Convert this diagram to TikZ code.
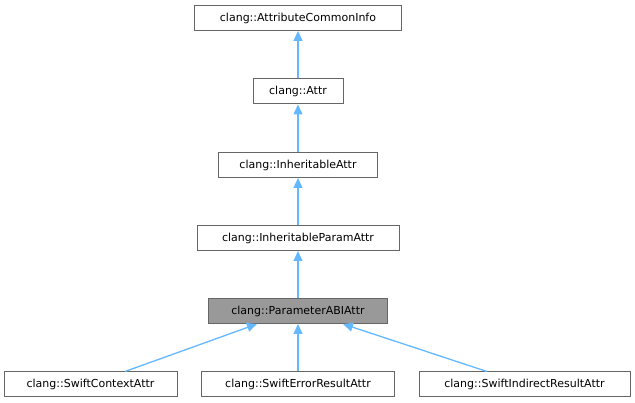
\documentclass[tikz,border=0pt]{standalone}
\usepackage{fontspec}
\setmainfont{DejaVu Sans}
\usetikzlibrary{arrows.meta}
\definecolor{edgeblue}{HTML}{63B8FF}
\definecolor{boxborder}{HTML}{666666}
\definecolor{hilite}{HTML}{999999}
\begin{document}
\begin{tikzpicture}[x=1pt,y=-1pt,
  cls/.style={draw=boxborder,line width=1pt,fill=white,minimum height=25pt,inner sep=0pt,font=\fontsize{11}{13}\selectfont,text=black},
  inh/.style={draw=edgeblue,line width=1.3pt,-{Triangle[length=10pt,width=9pt]}}]
\useasboundingbox (0,0) rectangle (635,403);
\node[cls,minimum width=207pt] (aci) at (298,18) {clang::AttributeCommonInfo};
\node[cls,minimum width=90pt] (attr) at (298,91.5) {clang::Attr};
\node[cls,minimum width=159pt] (ia) at (298,165) {clang::InheritableAttr};
\node[cls,minimum width=202pt] (ipa) at (298,238) {clang::InheritableParamAttr};
\node[cls,minimum width=179pt,fill=hilite] (pabi) at (298,311) {clang::ParameterABIAttr};
\node[cls,minimum width=173pt] (sca) at (90.5,384.5) {clang::SwiftContextAttr};
\node[cls,minimum width=193pt] (sera) at (298,384.5) {clang::SwiftErrorResultAttr};
\node[cls,minimum width=211pt] (sira) at (524.5,384.5) {clang::SwiftIndirectResultAttr};
\coordinate (scaS) at ([xshift=34.5pt]sca.north);
\coordinate (siraS) at ([xshift=-37.5pt]sira.north);
\coordinate (pabiL) at ([xshift=-41pt]pabi.south);
\coordinate (pabiR) at ([xshift=45pt]pabi.south);
\draw[inh] (attr) -- (aci);
\draw[inh] (ia) -- (attr);
\draw[inh] (ipa) -- (ia);
\draw[inh] (pabi) -- (ipa);
\draw[inh] (scaS) -- (pabiL);
\draw[inh] (sera) -- (pabi);
\draw[inh] (siraS) -- (pabiR);
\end{tikzpicture}
\end{document}
